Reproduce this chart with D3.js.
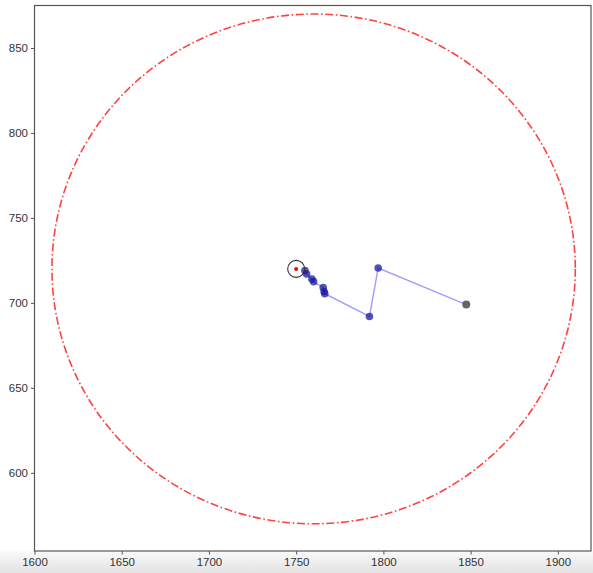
<!DOCTYPE html>
<html>
<head>
<meta charset="utf-8">
<script src="https://cdn.jsdelivr.net/npm/d3@7"></script>
<style>
  html, body { margin: 0; padding: 0; background: #fff; }
  svg { display: block; font-family: "DejaVu Sans", sans-serif; }
</style>
</head>
<body>
<div class="chart"></div>
<script>
// path of the tracked points (blue), in visit order
const pathX = [1755, 1756, 1759, 1760, 1765.5, 1766, 1766.4, 1792, 1797];
const pathY = [719, 717, 714, 712.5, 709, 706.7, 705.4, 692, 720.5];
// last point (grey)
const endPoint = { x: 1847.5, y: 699 };
// target marker (red dot + black ring)
const target = { x: 1750, y: 720 };
// boundary circle
const boundary = { cx: 1760, cy: 720, r: 150 };

const xTicks = [1600, 1650, 1700, 1750, 1800, 1850, 1900];
const yTicks = [600, 650, 700, 750, 800, 850];

const width = 593;
const height = 573;
const plot = { left: 34.5, right: 591, top: 5.5, bottom: 551 };

const svg = d3.select('.chart')
  .append('svg')
  .attr('width', width)
  .attr('height', height);

// grey band under the plot like the screenshot
const grad = svg.append('defs').append('linearGradient')
  .attr('id', 'band').attr('x1', 0).attr('y1', 0).attr('x2', 0).attr('y2', 1);
grad.append('stop').attr('offset', '0%').attr('stop-color', '#fafafa');
grad.append('stop').attr('offset', '100%').attr('stop-color', '#e2e2e2');
svg.append('rect')
  .attr('x', 0).attr('y', plot.bottom)
  .attr('width', width).attr('height', height - plot.bottom)
  .attr('fill', 'url(#band)');

const x = d3.scaleLinear().domain([1600, 1919]).range([plot.left, plot.right]);
const y = d3.scaleLinear().domain([554, 875]).range([plot.bottom, plot.top]);

/* boundary circle */
svg.append('ellipse')
  .attr('cx', x(boundary.cx))
  .attr('cy', y(boundary.cy))
  .attr('rx', x(boundary.cx + boundary.r) - x(boundary.cx))
  .attr('ry', y(boundary.cy - boundary.r) - y(boundary.cy))
  .attr('fill', 'none')
  .attr('stroke', '#ff2020')
  .attr('stroke-opacity', 0.85)
  .attr('stroke-width', 1.6)
  .attr('stroke-dasharray', '8,2.6,1.6,2.6');

/* path */
const pts = pathX.map((d, i) => ({ x: d, y: pathY[i] }));
const linePts = pts.concat([endPoint]);

svg.append('path')
  .datum(linePts)
  .attr('d', d3.line().x(d => x(d.x)).y(d => y(d.y)))
  .attr('fill', 'none')
  .attr('stroke', '#4040ff')
  .attr('stroke-opacity', 0.5)
  .attr('stroke-width', 1.4);

svg.selectAll('.pt')
  .data(pts)
  .enter().append('circle')
  .attr('class', 'pt')
  .attr('cx', d => x(d.x))
  .attr('cy', d => y(d.y))
  .attr('r', 3.8)
  .attr('fill', '#1a1aa0')
  .attr('fill-opacity', 0.75);

svg.append('circle')
  .attr('cx', x(endPoint.x))
  .attr('cy', y(endPoint.y))
  .attr('r', 4)
  .attr('fill', '#555')
  .attr('fill-opacity', 0.9);

/* target */
svg.append('circle')
  .attr('cx', x(target.x))
  .attr('cy', y(target.y))
  .attr('r', 8.5)
  .attr('fill', 'none')
  .attr('stroke', '#333')
  .attr('stroke-width', 1.1);

svg.append('circle')
  .attr('cx', x(target.x))
  .attr('cy', y(target.y))
  .attr('r', 2)
  .attr('fill', '#ff0000');

/* frame */
svg.append('rect')
  .attr('x', plot.left).attr('y', plot.top)
  .attr('width', plot.right - plot.left)
  .attr('height', plot.bottom - plot.top)
  .attr('fill', 'none')
  .attr('stroke', '#555')
  .attr('stroke-width', 1.2);

/* axes */
const xAxis = d3.axisBottom(x).tickValues(xTicks).tickSize(3.5).tickPadding(3).tickFormat(d3.format('d'));
const yAxis = d3.axisLeft(y).tickValues(yTicks).tickSize(3.5).tickPadding(3).tickFormat(d3.format('d'));

const xg = svg.append('g')
  .attr('transform', `translate(0,${plot.bottom})`)
  .call(xAxis);
const yg = svg.append('g')
  .attr('transform', `translate(${plot.left},0)`)
  .call(yAxis);

[xg, yg].forEach(g => {
  g.select('.domain').remove();
  g.selectAll('line').attr('stroke', '#555');
  g.selectAll('text').attr('fill', '#333').style('font-size', '11.5px');
});
</script>
</body>
</html>
